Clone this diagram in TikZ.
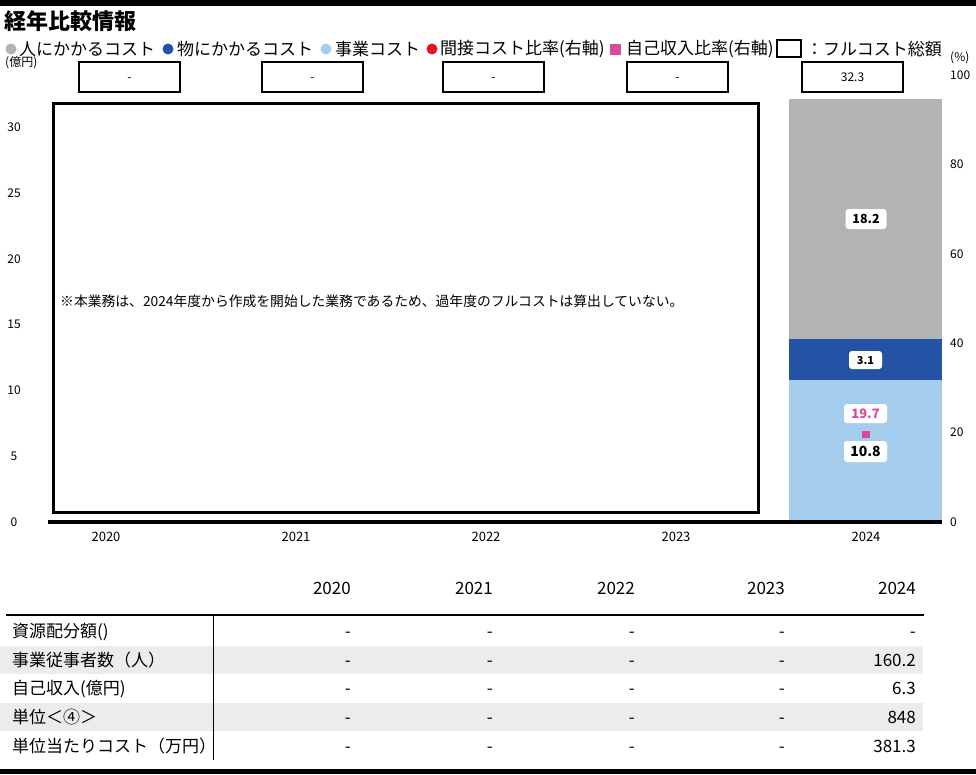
\documentclass[tikz,border=0pt]{standalone}
\usepackage{fontspec}
\setmainfont{Noto Sans CJK JP}
\usetikzlibrary{positioning}
\definecolor{humangray}{HTML}{B3B3B3}
\definecolor{thingblue}{HTML}{2452A4}
\definecolor{projblue}{HTML}{A5CDEE}
\definecolor{indirred}{HTML}{E8141F}
\definecolor{ownpink}{HTML}{D94A9A}
\definecolor{rowgray}{HTML}{EDEBEC}
\tikzset{
  legtext/.style={anchor=west, inner sep=0pt, font=\fontsize{17}{20}\selectfont},
  axlabel/.style={inner sep=0pt, font=\fontsize{12}{14}\selectfont},
  totalbox/.style={draw, line width=1.2pt, minimum width=101pt, minimum height=30pt, inner sep=0pt, text height=9pt, text depth=0pt, font=\fontsize{12}{14}\selectfont},
  vallabel/.style={fill=white, rounded corners=3pt, minimum width=41pt, minimum height=20pt, inner sep=0pt, font=\bfseries\fontsize{12.5}{14}\selectfont},
  tabtext/.style={inner sep=0pt, font=\fontsize{17}{20}\selectfont},
}

\begin{document}
\begin{tikzpicture}[x=1pt, y=-1pt]
\useasboundingbox (0,0) rectangle (976,774);
% frame lines
\fill (0,0) rectangle (976,6);
\fill (0,769) rectangle (976,774);
\node[anchor=west, inner sep=0pt, font=\bfseries\fontsize{22}{26}\selectfont] (title) at (4,21) {経年比較情報};

% legend
\fill[humangray] (11,49) circle (5.5);
\node[legtext] (leghuman) at (19,49) {人にかかるコスト};
\fill[thingblue] (168,49) circle (5.5);
\node[legtext] (legthing) at (177,49) {物にかかるコスト};
\fill[projblue] (326,49) circle (5.5);
\node[legtext] (legproj) at (335,49) {事業コスト};
\fill[indirred] (432,49) circle (5.5);
\node[legtext] (legindir) at (440,49) {間接コスト比率(右軸)};
\fill[ownpink] (610,44) rectangle (621,55);
\node[legtext] (legown) at (626,49) {自己収入比率(右軸)};
\draw[line width=1.5pt] (777,40) rectangle (801,57);
\node[legtext] (legtotal) at (806,49) {：フルコスト総額};

% units
\node[axlabel, anchor=west] (unitleft) at (5,63) {(億円)};
\node[axlabel, anchor=west] (unitright) at (950,58) {(\%)};

% total boxes
\node[totalbox] (tot2020) at (129.5,77) {-};
\node[totalbox] (tot2021) at (312.5,77) {-};
\node[totalbox] (tot2022) at (493.5,77) {-};
\node[totalbox] (tot2023) at (677.5,77) {-};
\node[totalbox] (tot2024) at (852.5,77) {32.3};

% axes labels
\foreach \v/\y in {30/127, 25/193, 20/259, 15/324.5, 10/390, 5/456, 0/522}
  \node[axlabel] (yl\v) at (14,\y) {\v};
\foreach \v/\y in {100/75, 80/164.5, 60/254, 40/343, 20/432.5, 0/522}
  \node[axlabel, anchor=west] (yr\v) at (950,\y) {\v};

% note frame
\draw[line width=3pt] (53,103) rectangle (758,512);
\node[anchor=west, inner sep=0pt, font=\fontsize{13.8}{16}\selectfont] (note) at (60,301)
  {※本業務は、2024年度から作成を開始した業務であるため、過年度のフルコストは算出していない。};

% 2024 bar
\fill[projblue] (789,522) rectangle (942,380);
\fill[thingblue] (789,380) rectangle (942,339);
\fill[humangray] (789,339) rectangle (942,99);
\draw[line width=4pt] (48,522) -- (942,522);
\node[vallabel] (v182) at (866,219) {18.2};
\node[vallabel, minimum width=33pt, minimum height=18pt, font=\bfseries\fontsize{11}{13}\selectfont] (v31) at (865.5,360) {3.1};
\node[vallabel, text=ownpink, minimum width=43pt, minimum height=19pt, font=\bfseries\fontsize{13}{15}\selectfont] (v197) at (865.5,413.5) {19.7};
\fill[ownpink] (862,431) rectangle (870,438);
\node[vallabel, minimum width=43pt, minimum height=21pt, font=\bfseries\fontsize{14}{16}\selectfont] (v108) at (865.5,451.5) {10.8};

% years under axis
\foreach \yr/\x in {2020/106, 2021/296, 2022/486, 2023/676, 2024/866}
  \node[axlabel, font=\fontsize{13}{15}\selectfont] (yr\yr) at (\x,537) {\yr};

% table
\fill[rowgray] (0,646) rectangle (923,674);
\fill[rowgray] (0,703) rectangle (923,731);
\draw[line width=1.2pt] (6,615) -- (924,615);
\draw[line width=1pt] (213,615) -- (213,760);
\foreach \yr/\x in {2020/351, 2021/493, 2022/635, 2023/785, 2024/916}
  \node[tabtext, anchor=base east] (th\yr) at (\x,594) {\yr};
\node[tabtext, anchor=base west] (rowres) at (12,637) {資源配分額()};
\node[tabtext, anchor=base west] (rowstaff) at (12,666) {事業従事者数（人）};
\node[tabtext, anchor=base west] (rowinc) at (12,694) {自己収入(億円)};
\node[tabtext, anchor=base west] (rowunit) at (12,723) {単位＜④＞};
\node[tabtext, anchor=base west] (rowcost) at (12,752) {単位当たりコスト（万円）};
\foreach \r/\y in {res/637, staff/666, inc/694, unit/723, cost/752}
  \foreach \c/\x in {a/351, b/493, c/635, d/785}
    \node[tabtext, anchor=base east] (cell\r\c) at (\x,\y) {-};
\node[tabtext, anchor=base east] (cellrese) at (916,637) {-};
\node[tabtext, anchor=base east] (cellstaffe) at (916,666) {160.2};
\node[tabtext, anchor=base east] (cellince) at (916,694) {6.3};
\node[tabtext, anchor=base east] (cellunite) at (916,723) {848};
\node[tabtext, anchor=base east] (cellcoste) at (916,752) {381.3};
\end{tikzpicture}
\end{document}
